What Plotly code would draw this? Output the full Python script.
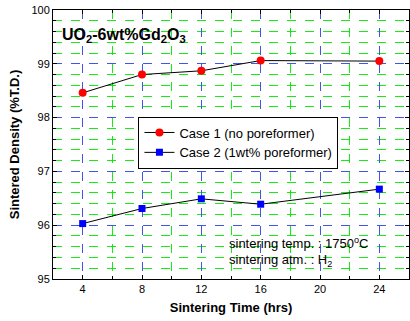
import plotly.graph_objects as go

hours = [4, 8, 12, 16, 24]
case1 = [98.46, 98.80, 98.87, 99.06, 99.05]
case2 = [96.03, 96.31, 96.49, 96.39, 96.67]
name1 = "Case 1 (no poreformer)"
name2 = "Case 2 (1wt% poreformer)"
x_ticks = [4, 8, 12, 16, 20, 24]
y_ticks = [95, 96, 97, 98, 99, 100]

FONT = "Liberation Sans, Arial, sans-serif"

fig = go.Figure()
fig.add_trace(go.Scatter(x=hours, y=case1, mode="lines+markers", name=name1,
                         line=dict(color="black", width=1),
                         marker=dict(symbol="circle", size=8, color="#ff0000")))
fig.add_trace(go.Scatter(x=hours, y=case2, mode="lines+markers", name=name2,
                         line=dict(color="black", width=1),
                         marker=dict(symbol="square", size=7, color="#0000ff")))

axis_common = dict(
    showline=True, linecolor="black", linewidth=1, mirror="allticks",
    ticks="inside", ticklen=4, tickcolor="black",
    showgrid=True, gridcolor="rgba(70,70,255,0.9)", griddash="dash", gridwidth=1,
    zeroline=False,
    tickfont=dict(family=FONT, size=11, color="black"),
)

fig.update_xaxes(**axis_common, range=[2, 26], tickvals=x_ticks,
                 minor=dict(dtick=2, tick0=0, ticks="inside", ticklen=3, tickcolor="black",
                            showgrid=True, gridcolor="rgba(0,230,0,0.9)", griddash="dash", gridwidth=1),
                 title=dict(text="<b>Sintering Time (hrs)</b>", font=dict(family=FONT, size=13, color="black"), standoff=8))
fig.update_yaxes(**axis_common, range=[95, 100], tickvals=y_ticks,
                 minor=dict(dtick=0.2, tick0=95, ticks="inside", ticklen=3, tickcolor="black",
                            showgrid=True, gridcolor="rgba(0,230,0,0.9)", griddash="dash", gridwidth=1),
                 title=dict(text="<b>Sintered Density (%T.D.)</b>", font=dict(family=FONT, size=13, color="black"), standoff=8))

fig.add_annotation(x=2.5, y=99.52, xref="x", yref="y", xanchor="left", yanchor="middle",
                   text="<b>UO<sub>2</sub>-6wt%Gd<sub>2</sub>O<sub>3</sub></b>", showarrow=False,
                   font=dict(family=FONT, size=16, color="black"))
fig.add_annotation(x=13.7, y=95.67, xref="x", yref="y", xanchor="left", yanchor="middle",
                   text="sintering temp. : 1750<sup>o</sup>C", showarrow=False,
                   font=dict(family=FONT, size=13, color="black"))
fig.add_annotation(x=13.7, y=95.35, xref="x", yref="y", xanchor="left", yanchor="middle",
                   text="sintering atm. : H<sub>2</sub>", showarrow=False,
                   font=dict(family=FONT, size=13, color="black"))

fig.update_layout(
    width=410, height=321,
    margin=dict(l=53, r=1, t=10, b=42),
    paper_bgcolor="white", plot_bgcolor="white",
    showlegend=True,
    legend=dict(x=0.24, y=0.604, xanchor="left", yanchor="top",
                bgcolor="white", bordercolor="black", borderwidth=1,
                font=dict(family=FONT, size=13, color="black"),
                tracegroupgap=0, itemwidth=30),
)

fig.write_html("out.html", config={"responsive": False, "displayModeBar": False},
               post_script="document.body.style.margin='0';document.body.style.padding='0';")
